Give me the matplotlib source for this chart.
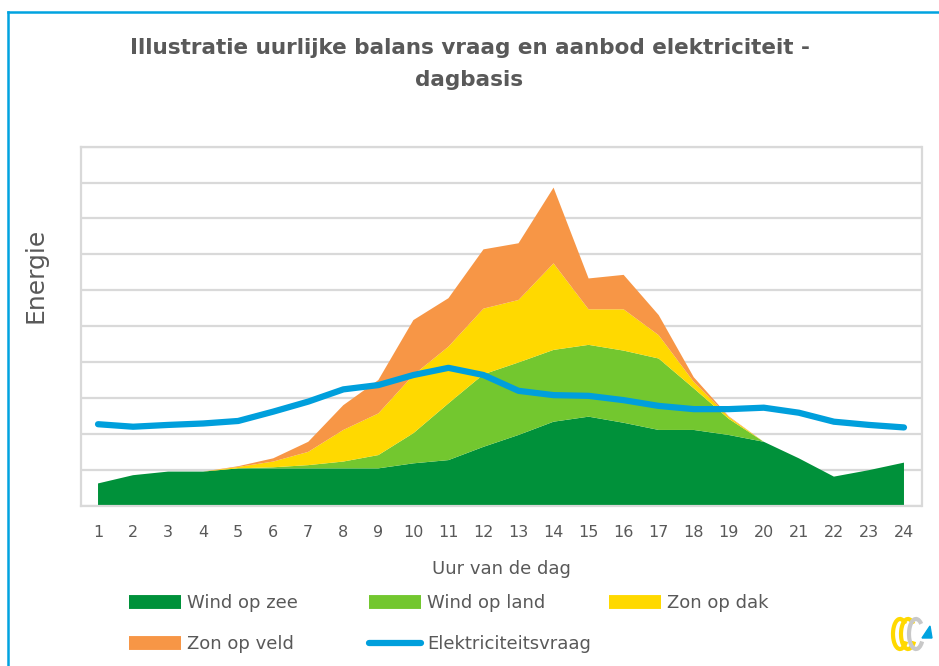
import matplotlib
matplotlib.use("Agg")
import matplotlib.pyplot as plt
from matplotlib.lines import Line2D
from matplotlib.patches import Arc, Polygon
import numpy as np

hours = list(range(1, 25))
wind_op_zee = [0.62, 0.85, 0.95, 0.95, 1.04, 1.04, 1.04, 1.04, 1.04, 1.18, 1.27, 1.64,
               1.97, 2.34, 2.48, 2.31, 2.11, 2.11, 1.97, 1.78, 1.32, 0.81, 0.99, 1.20]
wind_op_land = [0, 0, 0, 0, 0, 0.03, 0.09, 0.19, 0.37, 0.84, 1.58, 2.02,
                2.02, 2.00, 2.00, 2.01, 1.99, 1.16, 0.45, 0, 0, 0, 0, 0]
zon_op_dak = [0, 0, 0, 0, 0.04, 0.16, 0.37, 0.88, 1.16, 1.62, 1.58, 1.83,
              1.74, 2.41, 0.99, 1.15, 0.65, 0.18, 0.05, 0, 0, 0, 0, 0]
zon_op_veld = [0, 0, 0, 0, 0.02, 0.09, 0.28, 0.69, 0.93, 1.53, 1.35, 1.65,
               1.58, 2.11, 0.86, 0.96, 0.56, 0.13, 0.02, 0, 0, 0, 0, 0]
vraag = [2.27, 2.20, 2.25, 2.29, 2.36, 2.62, 2.90, 3.24, 3.36, 3.64, 3.84, 3.64,
         3.20, 3.08, 3.06, 2.94, 2.78, 2.69, 2.69, 2.73, 2.59, 2.34, 2.25, 2.18]

labels = ["Wind op zee", "Wind op land", "Zon op dak", "Zon op veld", "Elektriciteitsvraag"]
colors = ["#00913A", "#73C72F", "#FFD900", "#F79646", "#009FDC"]
txt = "#595959"

plt.rcParams['font.family'] = ['DejaVu Sans']

fig = plt.figure(figsize=(9.39, 6.66), dpi=100)
ax = fig.add_axes([80.5/939, 1-505.7/666, (921.5-80.5)/939, (505.7-146.7)/666])

ax.stackplot(hours, wind_op_zee, wind_op_land, zon_op_dak, zon_op_veld,
             colors=colors[:4], linewidth=0, zorder=2)
ax.plot(hours, vraag, color=colors[4], linewidth=4.5, solid_capstyle='round',
        solid_joinstyle='round', zorder=3)

ax.set_xlim(0.5, 24.5)
ax.set_ylim(0, 10)
ax.set_xticks(hours)
ax.set_xticklabels([str(h) for h in hours], fontsize=11.5, color=txt)
ax.set_yticks(np.arange(0, 11, 1))
ax.set_yticklabels([])
ax.tick_params(axis='x', length=0, pad=14)
ax.tick_params(axis='y', length=0)
ax.grid(axis='y', color='#D9D9D9', linewidth=1.6, zorder=0)
ax.set_axisbelow(True)
for s in ax.spines.values():
    s.set_color('#D9D9D9')
    s.set_linewidth(1.6)

ax.set_xlabel("Uur van de dag", fontsize=13, color=txt, labelpad=14)
ax.set_ylabel("Energie", fontsize=18, color=txt)
ax.yaxis.set_label_coords((47-80.5)/841, (505.7-275)/359)

fig.text(0.5, 1-48/666, "Illustratie uurlijke balans vraag en aanbod elektriciteit -",
         ha='center', va='center', fontsize=15.5, color=txt, fontweight='bold')
fig.text(0.5, 1-80/666, "dagbasis", ha='center', va='center', fontsize=15.5,
         color=txt, fontweight='bold')

# blue border
fig.add_artist(Line2D([8/939, 1], [1-12/666, 1-12/666], color='#00A3E0', linewidth=1.8,
                      transform=fig.transFigure))
fig.add_artist(Line2D([8/939, 8/939], [0, 1-12/666], color='#00A3E0', linewidth=1.8,
                      transform=fig.transFigure))

# legend
def patch_handle(c):
    return Line2D([0], [0], color=c, linewidth=10, solid_capstyle='butt')

handles = [patch_handle(c) for c in colors[:4]] + \
    [Line2D([0], [0], color=colors[4], linewidth=4.5, solid_capstyle='round')]

cols = [[0, 3], [1, 4], [2]]
xs = [129, 369, 609]
for ci, idxs in enumerate(cols):
    lg = fig.legend([handles[i] for i in idxs], [labels[i] for i in idxs],
                    loc='upper left', bbox_to_anchor=(xs[ci]/939, 1-594/666),
                    frameon=False, fontsize=13, handlelength=2.9, handletextpad=0.3,
                    labelspacing=1.3, borderpad=0, borderaxespad=0)
    for t in lg.get_texts():
        t.set_color(txt)

# logo
lx, ly = 908, 634
for dx, c in [(-8, '#FFD900'), (0, '#FFD900'), (8, '#C8C8C8')]:
    fig.add_artist(Arc(((lx+dx)/939, 1-ly/666), 14/939, 30/666, theta1=70, theta2=300,
                       color=c, linewidth=3, transform=fig.transFigure))
fig.add_artist(Polygon([[922/939, 1-638/666], [932/939, 1-638/666], [930/939, 1-626/666]],
                       closed=True, color='#00A3E0', transform=fig.transFigure))

fig.savefig("out.png", dpi=100)
